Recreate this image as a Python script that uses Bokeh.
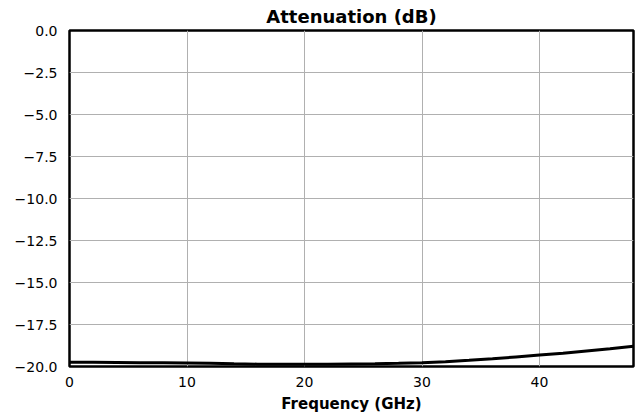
from bokeh.plotting import figure
from bokeh.models import FixedTicker, CustomJSTickFormatter
from bokeh.embed import file_html
from bokeh.resources import INLINE

# Data
freq_ghz = [0, 2, 4, 6, 8, 10, 12, 14, 16, 18, 20, 22, 24, 26, 28, 30, 32, 34, 36, 38, 40, 42, 44, 46, 48]
atten_db = [-19.74, -19.75, -19.76, -19.77, -19.78, -19.79, -19.81, -19.84, -19.86, -19.87,
            -19.87, -19.86, -19.85, -19.84, -19.81, -19.77, -19.71, -19.63, -19.54, -19.43,
            -19.32, -19.21, -19.08, -18.95, -18.80]
x_ticks = [0, 10, 20, 30, 40]
y_ticks = [-20.0, -17.5, -15.0, -12.5, -10.0, -7.5, -5.0, -2.5, 0.0]

FONT = "DejaVu Sans"

p = figure(width=637, height=415, x_range=(0, 48), y_range=(-20, 0),
           output_backend="svg", toolbar_location=None,
           min_border_left=69, min_border_right=4, min_border_top=0, min_border_bottom=0)

p.title.text = "Attenuation (dB)"
p.title.align = "center"
p.title.text_font = FONT
p.title.text_font_style = "bold"
p.title.text_font_size = "18px"
p.title.text_color = "black"
p.title.standoff = 7

p.line(freq_ghz, atten_db, line_color="black", line_width=3)

p.outline_line_color = "black"
p.outline_line_width = 2.5
p.outline_line_alpha = 1.0

for ax in (p.xaxis[0], p.yaxis[0]):
    ax.axis_line_color = None
    ax.major_tick_line_color = None
    ax.minor_tick_line_color = None
    ax.major_tick_out = 0
    ax.major_tick_in = 0
    ax.major_label_text_font = FONT
    ax.major_label_text_font_size = "14px"
    ax.major_label_text_color = "black"

p.xaxis.ticker = FixedTicker(ticks=x_ticks)
p.yaxis.ticker = FixedTicker(ticks=y_ticks)
p.yaxis.formatter = CustomJSTickFormatter(code="return tick.toFixed(1).replace('-', '\u2212');")
p.xaxis.formatter = CustomJSTickFormatter(code="return tick.toFixed(0);")
p.xaxis.major_label_standoff = 10
p.yaxis.major_label_standoff = 12

p.xaxis.axis_label = "Frequency (GHz)"
p.xaxis.axis_label_text_font = FONT
p.xaxis.axis_label_text_font_style = "bold"
p.xaxis.axis_label_text_font_size = "15px"
p.xaxis.axis_label_text_color = "black"
p.xaxis.axis_label_standoff = 5

p.grid.grid_line_color = "#b0b0b0"
p.grid.grid_line_width = 1
p.background_fill_color = "white"
p.border_fill_color = "white"

open("out.html", "w").write(file_html(p, INLINE))
